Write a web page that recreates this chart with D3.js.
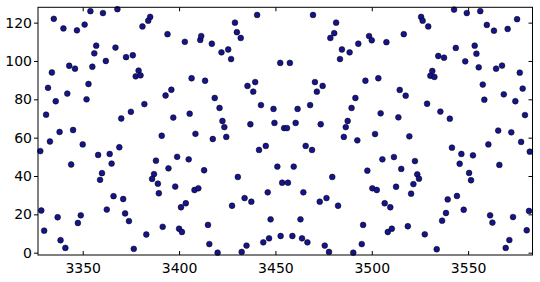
<!DOCTYPE html>
<html>
<head>
<meta charset="utf-8">
<style>
  body { margin: 0; background: #fff; }
  .chart text { font-family: "DejaVu Sans", sans-serif; font-size: 14px; fill: #000; }
</style>
</head>
<body>
<div class="chart"></div>
<script src="https://d3js.org/d3.v7.min.js"></script>
<script>
  // scatter data
  const xVals = [
    3335,3354,3360.5,3368,3340,3347,3351,3385,3384,3381,3394,3357,3356,3367,3362,3372.5,3376,3334,3343,3346,3355,3379,3377.5,3380,3332,3353,3336,3342,3352,3393,3396,3331,3370,3375,3382,3397,3338,3345,3391,
    3328,3333,3350,3344,3358,3364,3369,3365,3360,3359,3388,3387,3386,3389,3389.5,3394.5,3399,3398,3391.5,3383,3376.5,3366,3371,3362.5,3372,3374,3328.5,3330,3337,3338.5,3341,3347.5,3349,
    3440.5,3469.5,3429,3430,3432,3481.5,3480.5,3478.5,3403,3411,3411.5,3417,3422,3425.5,3427,3452.5,3457.5,3484.5,3488.5,3483.5,3493,3406.5,3413.5,3435.5,3439.5,3438.5,3470.5,3474.5,3471.5,3418.5,3421,3405.5,3442.5,3449,3461.5,3468,3491.5,3489.5,3422.5,3423.5,3437,3449.5,3454.5,3456,3460.5,3473.5,3487.5,3486.5,3408.5,3417.5,3424.5,3485.5,
    3405,3413,3408,3410,3401,3403.5,3400,3401.5,3415,3415.7,3420,3430.5,3427.5,3434,3437.5,3435,3432.5,3441.5,3445,3451,3453.5,3456.5,3459.5,3446,3464.5,3465.7,3469,3479.5,3473,3476.5,3482.5,3447.5,3463,3443.7,3446.7,3452.7,3458.8,3463.8,3466.6,3475.6,3477.8,3492.5,3490.4,
    3542.7,3549.3,3556.3,3525.6,3526.4,3529.3,3559.7,3563.4,3570.5,3575.4,3498.6,3500,3507.6,3516.6,3543.6,3553.4,3554.3,3548.5,3534.5,3537.5,3555.5,3564.5,3567.6,3576.8,3531.4,3530.4,3532.5,3496.7,3503.4,3514.5,3517.6,3504.6,3513.8,3528.7,3535.6,3540.5,3557.6,3558.4,3568.5,3574.5,3578.3,3579.5,3501.7,3519.5,3565.6,3572.4,
    3577.5,3582,3560.5,3566.2,3541.6,3546.5,3552.5,3545.6,3550.5,3551.5,3505.5,3511.5,3497.7,3515.3,3522.4,3523.6,3524.5,3521.6,3520.4,3500.3,3502.6,3512.6,3506.7,3509.6,3495.5,3494.8,3508.3,3510.4,3518.7,3527.5,3533.7,3539.4,3544.2,3547.7,3538.5,3536.5,3561.4,3562.6,3573.3,3571.4,3569.5,3581.6,3580.4
  ];
  const yVals = [
    122,126,125,127,117,116,119,123,121,118,114,108,104,107,100,102,103,94,97.5,96,97,95,92,92.5,86,88,79,83,80,82,85,72,70,73.5,77.5,70.5,63,64,61,
    53,58,56.5,46,51,51.5,55,46.5,41.5,38,48,41,38.5,36,31,44,50,34.5,13.5,9.5,2,29.5,28,22.5,20.5,16.5,22,11.5,18.5,6.5,2.5,15.5,19.5,
    124,124,120,115,112,120,114.5,112,110,111,113,109,104.5,106,101,99,99,106,104.5,101,109,91,89.7,87,89,84,89,87,84,80.7,75.5,72.5,77,75,75,77,80.7,75.5,68.7,65.5,67,67.7,65,65,67.7,67,68.7,65.5,62,59.3,60.4,60.4,
    48.7,43,32.7,33.6,23.7,25.8,12.5,10.8,14.5,4.5,0,39.5,24.5,28.5,26.6,3.7,0.4,53.6,55.7,44.9,36.5,36.5,44.9,31.5,31.5,55.7,53.6,39.5,26.6,28.5,24.5,17.4,17.4,5.4,7.5,8.7,8.7,7.5,5.4,3.7,0.4,58.6,0,
    126.8,125,126,123,121,118,118.8,115.8,116.7,121.8,113,110.8,109.8,114,106.8,108,103.8,99.8,102.6,101.7,96.7,96,97.6,93.9,94.8,92.3,91.7,89.7,91,84.9,81.9,72.7,70.6,77.7,73.6,69.9,87.7,79.8,82.6,79,85.6,71.8,61.9,60.7,63.7,62.8,
    57.8,52.7,56.5,45.8,54.8,51.5,50.8,46.4,41.6,37.8,48.7,49.9,42.8,43.7,47.8,40.9,38.6,35.8,30.8,33.6,32.7,34.4,25.8,23.7,14.5,4.5,10.8,12.5,13.8,9.6,1.8,27.8,29.6,22.4,20.7,16.7,19.5,15.7,18.6,6.6,2.5,21.8,11.7
  ];
  const xTicks = [3350, 3400, 3450, 3500, 3550];
  const yTicks = [0, 20, 40, 60, 80, 100, 120];

  const W = 540, H = 282;
  const plotL = 38, plotR = 532.5, plotT = 7.3, plotB = 255;

  const svg = d3.select('.chart')
                .append('svg')
                .attr('width', W)
                .attr('height', H);

  const xScale = d3.scaleLinear()
                   .domain([3326.8, 3583.4])
                   .range([plotL, plotR]);
  const yScale = d3.scaleLinear()
                   .domain([-1.2, 128])
                   .range([plotB, plotT]);

  const points = xVals.map((x, i) => [x, yVals[i]]);

  // points
  svg.append('g')
     .selectAll('circle')
     .data(points)
     .join('circle')
     .attr('cx', d => xScale(d[0]))
     .attr('cy', d => yScale(d[1]))
     .attr('r', 2.9)
     .attr('fill', '#16148a')
     .attr('stroke', '#000')
     .attr('stroke-width', 0.5);

  // axes: bottom/left with labels, top/right ticks only
  const fmt = d3.format('d');
  const xAxis = d3.axisBottom(xScale).tickValues(xTicks).tickFormat(fmt)
                  .tickSizeInner(-4).tickSizeOuter(0).tickPadding(8);
  const yAxis = d3.axisLeft(yScale).tickValues(yTicks).tickFormat(fmt)
                  .tickSizeInner(4).tickSizeOuter(0).tickPadding(2);

  svg.append('g').attr('transform', `translate(0,${plotB})`).call(xAxis);
  svg.append('g').attr('transform', `translate(${plotL},0)`).call(yAxis);

  svg.append('g').attr('transform', `translate(0,${plotT})`)
     .call(d3.axisTop(xScale).tickValues(xTicks).tickSizeInner(-4).tickSizeOuter(0).tickFormat(''));
  svg.append('g').attr('transform', `translate(${plotR},0)`)
     .call(d3.axisRight(yScale).tickValues(yTicks).tickSizeInner(-4).tickSizeOuter(0).tickFormat(''));

  svg.selectAll('.domain').remove();
  svg.selectAll('.tick line').attr('stroke', '#000');
  svg.selectAll('.tick text').attr('fill', '#000').style('font-size', '14px')
     .style('font-family', '"DejaVu Sans", sans-serif');

  // frame
  svg.append('rect')
     .attr('x', plotL).attr('y', plotT)
     .attr('width', plotR - plotL).attr('height', plotB - plotT)
     .attr('fill', 'none')
     .attr('stroke', '#000')
     .attr('stroke-width', 1);
</script>
</body>
</html>
